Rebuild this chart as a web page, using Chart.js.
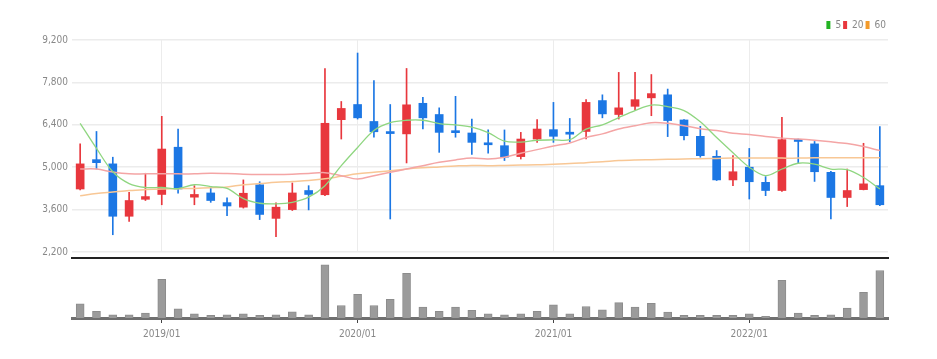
<!DOCTYPE html>
<html>
<head>
<meta charset="utf-8">
<script src="https://cdn.jsdelivr.net/npm/chart.js@4.4.0/dist/chart.umd.min.js"></script>
<style>
  html, body { margin: 0; padding: 0; background: #fff; }
  #wrap { position: relative; width: 937px; height: 359px; }
  #priceChart { position: absolute; left: 0; top: 0; }
  #volChart { position: absolute; left: 0; top: 256px; }
</style>
</head>
<body>
<div id="wrap">
  <canvas id="priceChart" width="937" height="256"></canvas>
  <canvas id="volChart" width="937" height="103"></canvas>
</div>
<script>
// monthly candles, 2018/08 - 2022/09
var months = ['2018/08','2018/09','2018/10','2018/11','2018/12',
  '2019/01','2019/02','2019/03','2019/04','2019/05','2019/06','2019/07','2019/08','2019/09','2019/10','2019/11','2019/12',
  '2020/01','2020/02','2020/03','2020/04','2020/05','2020/06','2020/07','2020/08','2020/09','2020/10','2020/11','2020/12',
  '2021/01','2021/02','2021/03','2021/04','2021/05','2021/06','2021/07','2021/08','2021/09','2021/10','2021/11','2021/12',
  '2022/01','2022/02','2022/03','2022/04','2022/05','2022/06','2022/07','2022/08','2022/09'];

var opens  = [4280,5250,5110,3380,3940, 4100,5660,4010,4150,3830,3680,4420,3310,3600,4230,4090,6570,
              7070,6510,6170,6100,7110,6740,6180,6130,5800,5710,5350,5930,
              6240,6150,6180,7200,6740,7010,7290,7390,6560,6020,5360,4580,
              5000,4500,4230,5910,5770,4830,4000,4260,4390];
var highs  = [5770,6180,5330,4170,4800, 6680,6260,4390,4360,3990,4580,4520,3820,4480,4390,8260,7170,
              8770,7860,7070,8260,7310,6960,7340,6590,6230,6230,6150,6570,
              7140,6610,7230,7390,8130,8130,8060,7580,6570,6350,5550,5380,
              5620,4690,6650,5930,5850,4860,4940,5790,6340];
var lows   = [4250,4940,2770,3210,3900, 3760,4140,3760,3840,3400,3650,3270,2710,3570,3590,4060,5930,
              6590,5990,3290,5140,6260,5490,5990,5420,5460,5220,5270,5820,
              5820,5840,5930,6630,6590,6890,6700,6010,5900,5330,4560,4390,
              3950,4060,4200,5130,4530,3290,3700,4250,3730];
var closes = [5110,5150,3380,3900,4030, 5600,4280,4100,3900,3720,4140,3440,3680,4150,4100,6450,6940,
              6630,6170,6110,7060,6630,6150,6140,5820,5740,5330,5930,6260,
              6020,6090,7140,6760,6960,7230,7430,6540,6040,5380,4580,4850,
              4520,4230,5910,5850,4850,4000,4230,4450,3760];

var ma5  = [6450,5620,4850,4460,4330, 4330,4290,4420,4360,4300,3960,3810,3790,3840,4010,4390,5050,
            5650,6210,6470,6550,6550,6440,6400,6320,6140,5860,5830,5890,
            5900,5910,6260,6400,6640,6870,7050,7000,6870,6500,5980,5480,
            5000,4720,4940,5130,5100,4940,4920,4660,4280];
var ma20 = [4940,4940,4840,4780,4780, 4780,4780,4780,4800,4790,4770,4760,4760,4770,4790,4820,4720,
            4610,4720,4830,4940,5050,5160,5240,5300,5270,5330,5460,5580,
            5700,5800,5980,6100,6260,6370,6470,6450,6370,6270,6210,6120,
            6080,6010,5960,5930,5890,5840,5780,5680,5550];
var ma60 = [4060,4130,4180,4230,4260, 4280,4290,4300,4320,4350,4420,4460,4500,4530,4560,4620,4700,
            4780,4830,4880,4940,4980,5010,5040,5060,5050,5060,5070,5080,
            5100,5120,5150,5180,5220,5240,5250,5260,5270,5280,5290,5300,
            5300,5300,5300,5300,5310,5310,5310,5310,5310];

var volumes = [143,67,33,33,50, 393,93,43,27,33,43,27,33,63,33,540,127,
               240,127,190,453,110,67,110,77,43,33,43,67,
               133,43,117,83,157,110,150,60,27,27,27,27,
               43,17,383,50,27,33,100,260,483];

var priceTicks = [2200, 3600, 5000, 6400, 7800, 9200];

var UP = '#e8373d', DOWN = '#1c77e4';
var FONT = "'Liberation Sans Narrow', 'DejaVu Sans Condensed', 'Roboto Condensed', Roboto, sans-serif";

var candleColors = opens.map(function (o, i) { return closes[i] >= o ? UP : DOWN; });
var bodies = opens.map(function (o, i) { return [o, closes[i]]; });
var wicks = lows.map(function (l, i) { return [l, highs[i]]; });
var legendFill = ['#22b322', '#e8373d', '#f39b2b'];

function isJan(i) { return /\/01$/.test(months[i]); }

new Chart(document.getElementById('priceChart'), {
  data: {
    labels: months,
    datasets: [
      { type: 'line', label: '5', data: ma5, borderColor: '#8fd680', borderWidth: 1.3, pointRadius: 0, tension: 0.35, order: 0 },
      { type: 'line', label: '20', data: ma20, borderColor: '#f4a5a5', borderWidth: 1.5, pointRadius: 0, tension: 0.35, order: 0 },
      { type: 'line', label: '60', data: ma60, borderColor: '#f8c795', borderWidth: 1.5, pointRadius: 0, tension: 0.35, order: 0 },
      { type: 'bar', label: 'wick', data: wicks, backgroundColor: candleColors, barThickness: 1, grouped: false, order: 2 },
      { type: 'bar', label: 'body', data: bodies, backgroundColor: candleColors, barThickness: 8, grouped: false, minBarLength: 2, order: 1 }
    ]
  },
  options: {
    responsive: false,
    animation: false,
    layout: { padding: { top: 18, right: 49, bottom: 4, left: 0 } },
    plugins: {
      tooltip: { enabled: false },
      legend: {
        position: 'top',
        align: 'end',
        labels: {
          boxWidth: 4, boxHeight: 8, padding: 2,
          color: '#888', font: { family: FONT, size: 10 },
          generateLabels: function (chart) {
            var items = Chart.defaults.plugins.legend.labels.generateLabels(chart);
            return items.filter(function (it) { return it.datasetIndex < 3; }).map(function (it) {
              it.fillStyle = legendFill[it.datasetIndex];
              it.strokeStyle = legendFill[it.datasetIndex];
              it.lineWidth = 0;
              return it;
            });
          }
        }
      }
    },
    scales: {
      x: {
        type: 'category',
        offset: true,
        afterFit: function (scale) { scale.height = 0; },
        ticks: { display: false },
        border: { display: false },
        grid: {
          offset: false, drawTicks: false,
          color: function (ctx) { return isJan(ctx.index) ? '#ececec' : 'rgba(0,0,0,0)'; }
        }
      },
      y: {
        min: 2200, max: 9200,
        afterBuildTicks: function (scale) { scale.ticks = priceTicks.map(function (v) { return { value: v }; }); },
        afterFit: function (scale) { scale.width = 72; scale.paddingBottom = 0; },
        border: { display: false },
        grid: { color: '#ececec', drawTicks: false, lineWidth: 1.5 },
        ticks: {
          padding: 4, color: '#888', font: { family: FONT, size: 10 },
          callback: function (v) { return v.toLocaleString('en-US'); }
        }
      }
    }
  }
});

new Chart(document.getElementById('volChart'), {
  type: 'bar',
  data: {
    labels: months,
    datasets: [
      { label: 'volume', data: volumes, backgroundColor: '#9b9b9b', borderColor: '#8c8c8c', borderWidth: 1, barThickness: 8 }
    ]
  },
  options: {
    responsive: false,
    animation: false,
    layout: { padding: { top: 2, right: 49, bottom: 14, left: 72 } },
    plugins: { legend: { display: false }, tooltip: { enabled: false } },
    scales: {
      x: {
        offset: true,
        border: { color: '#6f6f6f', width: 3 },
        grid: {
          offset: false, drawOnChartArea: false, tickLength: 5,
          color: function (ctx) { return isJan(ctx.index) ? '#444' : 'rgba(0,0,0,0)'; }
        },
        ticks: {
          autoSkip: false, maxRotation: 0, padding: 5,
          color: '#888', font: { family: FONT, size: 10 },
          callback: function (v, i) { return isJan(i) ? months[i] : ''; }
        }
      },
      xTop: {
        type: 'category',
        position: 'top',
        offset: true,
        afterFit: function (scale) { scale.height = 0; },
        border: { color: '#222', width: 2 },
        grid: { display: false },
        ticks: { display: false }
      },
      y: { display: false, min: 0, max: 610 }
    }
  }
});
</script>
</body>
</html>
